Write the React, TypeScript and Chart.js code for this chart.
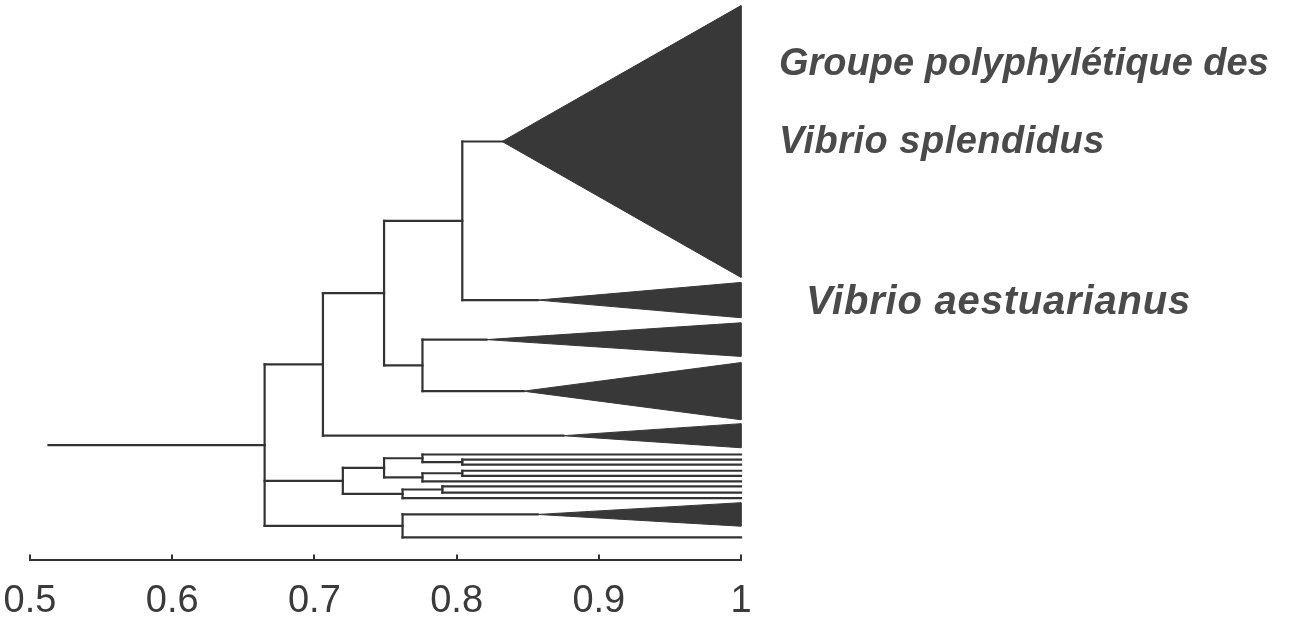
import React, { useEffect, useRef } from 'react';
import { Chart, registerables } from 'chart.js';

Chart.register(...registerables);

// ---- axis ----
const X_TICKS = [0.5, 0.6, 0.7, 0.8, 0.9, 1.0];
const X_MIN = 0.5;
const X_MAX = 1.0;
const ROW_MIN = 0;
const ROW_MAX = 100;
const ROOT_START = 0.513;

// ---- collapsed clades (triangles): apex similarity and vertical extent in rows ----
const CLADE_IDS = ['c0', 'c1', 'c2', 'c3', 'c4', 'c5'];
const CLADE_APEX = [0.832, 0.857, 0.821, 0.847, 0.875, 0.857];
const CLADE_TOP = [1.0, 50.4, 57.6, 64.7, 75.6, 89.7];
const CLADE_BOTTOM = [49.5, 56.7, 63.6, 74.9, 79.9, 93.9];

// ---- single strains (rows) ----
const LEAF_IDS = ['l0', 'l1', 'l2', 'l3', 'l4', 'l5', 'l6', 'l7', 'l8', 'l9'];
const LEAF_ROWS = [81.1, 82.0, 82.9, 84.0, 84.9, 85.9, 86.8, 87.9, 88.9, 95.9];

// ---- internal nodes: similarity level and children ----
const NODE_IDS = ['D', 'E', 'C', 'B', 'I', 'H', 'K', 'J', 'G', 'M', 'L', 'F', 'N', 'A'];
const NODE_SIM = [0.804, 0.776, 0.749, 0.706, 0.804, 0.776, 0.804, 0.776, 0.749, 0.790, 0.762, 0.720, 0.762, 0.665];
const NODE_CHILDREN = [
  ['c0', 'c1'],
  ['c2', 'c3'],
  ['D', 'E'],
  ['C', 'c4'],
  ['l1', 'l2'],
  ['l0', 'I'],
  ['l3', 'l4'],
  ['K', 'l5'],
  ['H', 'J'],
  ['l6', 'l7'],
  ['M', 'l8'],
  ['G', 'L'],
  ['c5', 'l9'],
  ['B', 'F', 'N'],
];

// ---- annotations ----
const LABEL_SPLENDIDUS = ['Groupe polyphylétique des', 'Vibrio splendidus'];
const LABEL_AESTUARIANUS = 'Vibrio aestuarianus';

const LINE_COLOR = '#333333';
const FILL_COLOR = '#383838';

function buildDatasets() {
  const pos: Record<string, { x: number; y: number }> = {};
  CLADE_IDS.forEach((id, i) => {
    pos[id] = { x: CLADE_APEX[i], y: (CLADE_TOP[i] + CLADE_BOTTOM[i]) / 2 };
  });
  LEAF_IDS.forEach((id, i) => {
    pos[id] = { x: X_MAX, y: LEAF_ROWS[i] };
  });
  const datasets: any[] = [];
  const seg = (pts: { x: number; y: number }[]) => {
    datasets.push({
      data: pts,
      showLine: true,
      pointRadius: 0,
      pointHoverRadius: 0,
      borderColor: LINE_COLOR,
      borderWidth: 2.2,
      borderCapStyle: 'square',
      fill: false,
      clip: false,
    });
  };
  NODE_IDS.forEach((id, i) => {
    const h = NODE_SIM[i];
    const ys = NODE_CHILDREN[i].map((c) => pos[c].y);
    const yMin = Math.min(...ys);
    const yMax = Math.max(...ys);
    pos[id] = { x: h, y: (yMin + yMax) / 2 };
    seg([{ x: h, y: yMin }, { x: h, y: yMax }]);
    NODE_CHILDREN[i].forEach((c) => {
      seg([{ x: h, y: pos[c].y }, { x: pos[c].x, y: pos[c].y }]);
    });
  });
  const root = pos['A'];
  seg([{ x: ROOT_START, y: root.y }, { x: root.x, y: root.y }]);
  CLADE_IDS.forEach((id, i) => {
    datasets.push({
      data: [
        { x: CLADE_APEX[i], y: pos[id].y },
        { x: X_MAX, y: CLADE_TOP[i] },
        { x: X_MAX, y: CLADE_BOTTOM[i] },
        { x: CLADE_APEX[i], y: pos[id].y },
      ],
      showLine: true,
      pointRadius: 0,
      pointHoverRadius: 0,
      borderColor: FILL_COLOR,
      borderWidth: 1,
      backgroundColor: FILL_COLOR,
      fill: 'shape',
      clip: false,
    });
  });
  return datasets;
}

const overlayPlugin = {
  id: 'overlay',
  afterDraw(chart: any) {
    const { ctx, chartArea } = chart;
    const xs = chart.scales.x;
    ctx.save();
    // upward tick marks on the axis line
    ctx.strokeStyle = LINE_COLOR;
    ctx.lineWidth = 2;
    X_TICKS.forEach((v) => {
      const px = Math.round(xs.getPixelForValue(v));
      ctx.beginPath();
      ctx.moveTo(px, chartArea.bottom);
      ctx.lineTo(px, chartArea.bottom - 6);
      ctx.stroke();
    });
    // clade labels
    ctx.fillStyle = '#4a4a4a';
    ctx.textAlign = 'left';
    ctx.textBaseline = 'alphabetic';
    ctx.font = 'italic bold 38px "Liberation Sans", Arial, sans-serif';
    ctx.fillText(LABEL_SPLENDIDUS[0], 779, 75);
    try { (ctx as any).letterSpacing = '0.5px'; } catch (e) {}
    ctx.fillText(LABEL_SPLENDIDUS[1], 779, 153);
    ctx.font = 'italic bold 40px "Liberation Sans", Arial, sans-serif';
    try { (ctx as any).letterSpacing = '0.8px'; } catch (e) {}
    ctx.fillText(LABEL_AESTUARIANUS, 806, 314);
    try { (ctx as any).letterSpacing = '0px'; } catch (e) {}
    ctx.restore();
  },
};

export default function App() {
  const ref = useRef<HTMLCanvasElement | null>(null);
  useEffect(() => {
    document.body.style.margin = '0';
    document.body.style.overflow = 'hidden';
    if (!ref.current) return;
    const chart = new Chart(ref.current, {
      type: 'scatter',
      data: { datasets: buildDatasets() },
      options: {
        animation: false,
        responsive: true,
        maintainAspectRatio: false,
        events: [],
        layout: { padding: { left: 30, right: 548, top: 0, bottom: -22 } },
        plugins: { legend: { display: false }, tooltip: { enabled: false } },
        scales: {
          x: {
            type: 'linear',
            min: X_MIN,
            max: X_MAX,
            afterBuildTicks: (scale: any) => {
              scale.ticks = X_TICKS.map((v) => ({ value: v }));
            },
            afterFit: (scale: any) => {
              scale.paddingLeft = 0;
              scale.paddingRight = 0;
            },
            grid: { display: false, drawTicks: false },
            border: { display: true, color: LINE_COLOR, width: 2 },
            ticks: {
              padding: 18,
              color: '#3a3a3a',
              maxRotation: 0,
              font: { family: '"Liberation Sans", Arial, sans-serif', size: 38, lineHeight: 1.2 },
              callback: (v: any) => String(Number(v)),
            },
          },
          y: {
            type: 'linear',
            display: false,
            reverse: true,
            min: ROW_MIN,
            max: ROW_MAX,
          },
        },
      },
      plugins: [overlayPlugin],
    });
    return () => chart.destroy();
  }, []);
  return (
    <div style={{ position: 'relative', width: 1289, height: 620, background: '#ffffff' }}>
      <canvas ref={ref} />
    </div>
  );
}
